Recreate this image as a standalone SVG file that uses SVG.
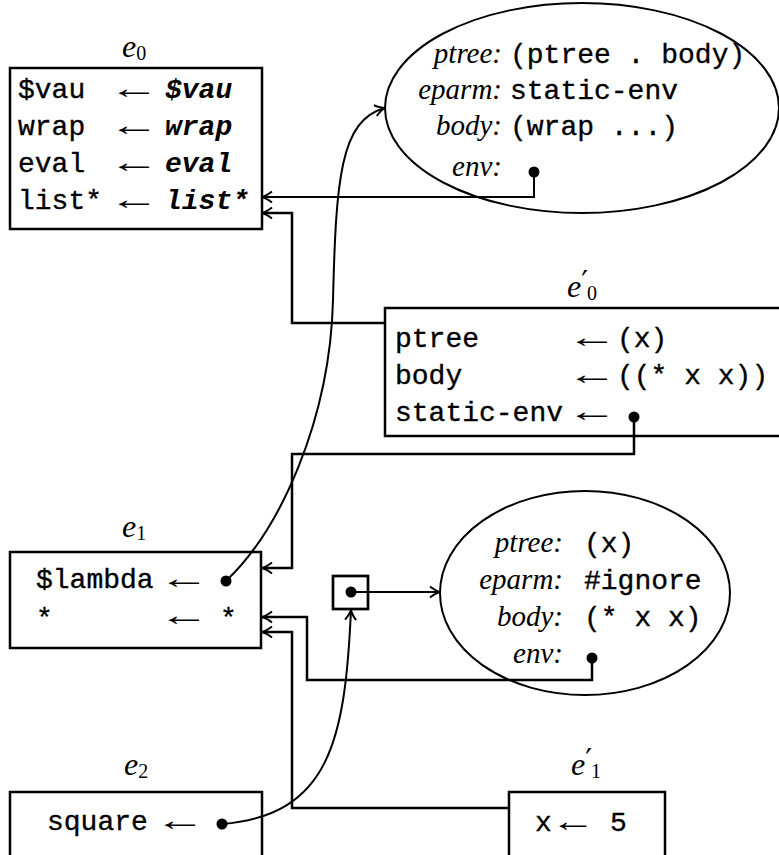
<svg xmlns="http://www.w3.org/2000/svg" width="779" height="855" viewBox="0 0 779 855">
<defs>
<style>
.box{fill:none;stroke:#000;stroke-width:2.5}
.ell{fill:none;stroke:#000;stroke-width:2}
.tt{font-family:"Liberation Mono","DejaVu Sans Mono",monospace;font-size:28px;fill:#000;stroke:#000;stroke-width:0.35}
.tti{font-family:"Liberation Mono","DejaVu Sans Mono",monospace;font-size:28px;font-style:italic;font-weight:bold;fill:#000}
.it{font-family:"Liberation Serif","DejaVu Serif",serif;font-style:italic;font-size:29px;fill:#000}
.lab{font-family:"Liberation Serif","DejaVu Serif",serif;font-style:italic;font-size:32px;fill:#000}
.sub{font-family:"Liberation Serif","DejaVu Serif",serif;font-style:normal;font-size:20px;fill:#000}
.pr{font-family:"DejaVu Sans","Liberation Sans",sans-serif;font-style:normal;font-size:30px;fill:#000}
.arr{font-family:"Liberation Serif","DejaVu Serif",serif;font-size:30px;fill:#000;text-anchor:middle}
.conn{fill:none;stroke:#000;stroke-width:2.5;marker-end:url(#ah)}
.thin{stroke-width:2}
.dot{fill:#000}
</style>
<marker id="ah" viewBox="-12 -8 14 16" refX="0" refY="0" markerWidth="14" markerHeight="16" orient="auto" markerUnits="userSpaceOnUse">
<path d="M-10,-5.5 Q-4,-1 0,0 Q-4,1 -10,5.5" fill="none" stroke="#000" stroke-width="2"/>
</marker>
</defs>

<g id="e0">
<text class="lab" x="122" y="57">e<tspan class="sub" dy="3">0</tspan></text>
<rect class="box" x="10" y="68" width="252" height="161"/>
<text class="tt" x="18" y="98">$vau</text>
<text class="tt" x="18" y="135">wrap</text>
<text class="tt" x="18" y="172">eval</text>
<text class="tt" x="18" y="209">list*</text>
<text class="arr" transform="translate(134,98) scale(1.7,1)">←</text>
<text class="arr" transform="translate(134,135) scale(1.7,1)">←</text>
<text class="arr" transform="translate(134,172) scale(1.7,1)">←</text>
<text class="arr" transform="translate(134,209) scale(1.7,1)">←</text>
<text class="tti" x="165" y="98">$vau</text>
<text class="tti" x="165" y="135">wrap</text>
<text class="tti" x="165" y="172">eval</text>
<text class="tti" x="165" y="209">list*</text>
</g>

<g id="op0">
<ellipse class="ell" cx="582" cy="108" rx="197" ry="105"/>
<text class="it" x="502" y="63" text-anchor="end">ptree:</text>
<text class="it" x="502" y="99" text-anchor="end">eparm:</text>
<text class="it" x="502" y="135" text-anchor="end">body:</text>
<text class="it" x="502" y="176" text-anchor="end">env:</text>
<text class="tt" x="510" y="63">(ptree . body)</text>
<text class="tt" x="510" y="99">static-env</text>
<text class="tt" x="510" y="135">(wrap ...)</text>
<circle class="dot" cx="534" cy="172" r="5.5"/>
</g>

<g id="e0p">
<text class="lab" x="567" y="297">e<tspan class="pr" dy="-5">′</tspan><tspan class="sub" dx="-1" dy="8">0</tspan></text>
<rect class="box" x="385" y="308" width="410" height="128"/>
<text class="tt" x="395" y="347">ptree</text>
<text class="tt" x="395" y="384">body</text>
<text class="tt" x="395" y="421">static-env</text>
<text class="arr" transform="translate(592,347) scale(1.7,1)">←</text>
<text class="arr" transform="translate(592,384) scale(1.7,1)">←</text>
<text class="arr" transform="translate(592,421) scale(1.7,1)">←</text>
<text class="tt" x="617" y="347">(x)</text>
<text class="tt" x="617" y="384">((* x x))</text>
<circle class="dot" cx="634" cy="417" r="5.5"/>
</g>

<g id="e1">
<text class="lab" x="122" y="537">e<tspan class="sub" dy="3">1</tspan></text>
<rect class="box" x="10" y="552" width="251" height="96"/>
<text class="tt" x="36" y="588">$lambda</text>
<text class="tt" x="36" y="627">*</text>
<text class="arr" transform="translate(184,588) scale(1.7,1)">←</text>
<text class="arr" transform="translate(184,625) scale(1.7,1)">←</text>
<circle class="dot" cx="226" cy="581" r="5.5"/>
<text class="tt" x="220" y="627">*</text>
</g>

<g id="cell">
<rect x="333" y="576" width="35" height="33" fill="none" stroke="#000" stroke-width="2.7"/>
<circle class="dot" cx="351" cy="592" r="5.5"/>
</g>

<g id="op1">
<ellipse class="ell" cx="585" cy="593" rx="145" ry="102"/>
<text class="it" x="563" y="552" text-anchor="end">ptree:</text>
<text class="it" x="563" y="589" text-anchor="end">eparm:</text>
<text class="it" x="563" y="626" text-anchor="end">body:</text>
<text class="it" x="563" y="663" text-anchor="end">env:</text>
<text class="tt" x="584" y="552">(x)</text>
<text class="tt" x="584" y="589">#ignore</text>
<text class="tt" x="584" y="626">(* x x)</text>
<circle class="dot" cx="592" cy="658" r="5.5"/>
</g>

<g id="e2">
<text class="lab" x="124" y="775">e<tspan class="sub" dy="3">2</tspan></text>
<rect class="box" x="10" y="792" width="252" height="80"/>
<text class="tt" x="47" y="830">square</text>
<text class="arr" transform="translate(180,830) scale(1.7,1)">←</text>
<circle class="dot" cx="222" cy="824" r="5.5"/>
</g>

<g id="e1p">
<text class="lab" x="571" y="775">e<tspan class="pr" dy="-5">′</tspan><tspan class="sub" dx="-1" dy="8">1</tspan></text>
<rect class="box" x="509" y="792" width="156" height="80"/>
<text class="tt" x="535" y="831">x</text>
<text class="arr" transform="translate(573,831) scale(1.5,1)">←</text>
<text class="tt" x="610" y="831">5</text>
</g>

<g id="connectors">
<path class="conn thin" d="M534,172 V197 H262"/>
<path class="conn" d="M385,323 H292 V213 H262"/>
<path class="conn" d="M634,417 V454 H292 V568 H262"/>
<path class="conn thin" d="M226,581 C280,530 330,420 333,300 C336,180 340,120 385,108"/>
<path class="conn thin" d="M351,592 H440"/>
<path class="conn" d="M592,658 V680 H307 V617 H262"/>
<path class="conn" d="M509,808 H292 V632 H262"/>
<path class="conn thin" d="M222,824 C330,815 345,740 351,610"/>
</g>
</svg>
